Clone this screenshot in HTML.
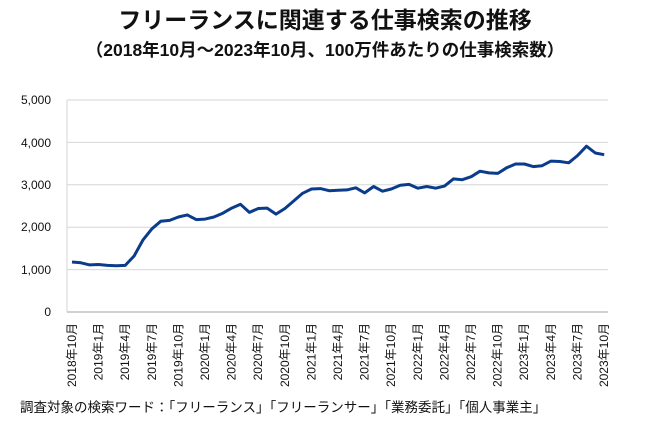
<!DOCTYPE html>
<html><head><meta charset="utf-8"><style>
body{margin:0;background:#fff;}
svg{display:block;font-family:"Liberation Sans","Noto Sans CJK JP",sans-serif;}
</style></head><body>
<svg width="650" height="434" viewBox="0 0 650 434" xmlns="http://www.w3.org/2000/svg">
<text x="325" y="28" text-anchor="middle" font-size="23" font-weight="bold" fill="#111">フリーランスに関連する仕事検索の推移</text>
<text x="325" y="56" text-anchor="middle" font-size="17.5" font-weight="bold" fill="#111">（2018年10月～2023年10月、100万件あたりの仕事検索数）</text>
<g stroke="#d6d6d6" stroke-width="1">
<line x1="67" y1="100" x2="608" y2="100"/>
<line x1="67" y1="142.4" x2="608" y2="142.4"/>
<line x1="67" y1="184.8" x2="608" y2="184.8"/>
<line x1="67" y1="227.2" x2="608" y2="227.2"/>
<line x1="67" y1="269.6" x2="608" y2="269.6"/>
<line x1="67" y1="100" x2="67" y2="312"/>
</g>
<line x1="67" y1="312" x2="608" y2="312" stroke="#d0d0d0" stroke-width="2"/>
<g font-size="12" fill="#111" text-anchor="end">
<text x="51" y="104">5,000</text>
<text x="51" y="147">4,000</text>
<text x="51" y="189">3,000</text>
<text x="51" y="231">2,000</text>
<text x="51" y="274">1,000</text>
<text x="51" y="316">0</text>
</g>
<polyline fill="none" stroke="#0b3c8c" stroke-width="3" stroke-linejoin="round" points="72.0,262.0 80.9,262.8 89.7,264.9 98.6,264.5 107.5,265.4 116.4,265.8 125.2,265.4 134.1,256.0 143.0,239.9 151.8,228.9 160.7,221.3 169.6,220.4 178.4,217.0 187.3,214.9 196.2,219.6 205.1,219.1 213.9,217.0 222.8,213.2 231.7,208.1 240.5,204.3 249.4,212.4 258.3,208.5 267.1,208.1 276.0,214.1 284.9,208.5 293.8,200.9 302.6,193.3 311.5,189.0 320.4,188.6 329.2,190.7 338.1,190.3 347.0,189.9 355.8,187.8 364.7,192.9 373.6,186.5 382.5,191.2 391.3,189.0 400.2,185.2 409.1,184.4 417.9,188.2 426.8,186.5 435.7,188.2 444.5,186.1 453.4,178.9 462.3,179.7 471.2,176.7 480.0,171.2 488.9,172.9 497.8,173.4 506.6,167.8 515.5,164.0 524.4,164.0 533.2,166.6 542.1,165.7 551.0,161.1 559.9,161.5 568.7,162.8 577.6,155.5 586.5,146.2 595.3,153.0 604.2,154.7"/>
<g font-size="12" fill="#111" text-anchor="end">
<text transform="translate(76,323) rotate(-90)">2018年10月</text>
<text transform="translate(102.6,323) rotate(-90)">2019年1月</text>
<text transform="translate(129.2,323) rotate(-90)">2019年4月</text>
<text transform="translate(155.8,323) rotate(-90)">2019年7月</text>
<text transform="translate(182.4,323) rotate(-90)">2019年10月</text>
<text transform="translate(209,323) rotate(-90)">2020年1月</text>
<text transform="translate(235.6,323) rotate(-90)">2020年4月</text>
<text transform="translate(262.2,323) rotate(-90)">2020年7月</text>
<text transform="translate(288.8,323) rotate(-90)">2020年10月</text>
<text transform="translate(315.4,323) rotate(-90)">2021年1月</text>
<text transform="translate(342,323) rotate(-90)">2021年4月</text>
<text transform="translate(368.6,323) rotate(-90)">2021年7月</text>
<text transform="translate(395.2,323) rotate(-90)">2021年10月</text>
<text transform="translate(421.8,323) rotate(-90)">2022年1月</text>
<text transform="translate(448.4,323) rotate(-90)">2022年4月</text>
<text transform="translate(475,323) rotate(-90)">2022年7月</text>
<text transform="translate(501.6,323) rotate(-90)">2022年10月</text>
<text transform="translate(528.2,323) rotate(-90)">2023年1月</text>
<text transform="translate(554.8,323) rotate(-90)">2023年4月</text>
<text transform="translate(581.4,323) rotate(-90)">2023年7月</text>
<text transform="translate(608,323) rotate(-90)">2023年10月</text>
</g>
<text x="20" y="412" font-size="13.5" fill="#111">調査対象の検索ワード：「フリーランス」「フリーランサー」「業務委託」「個人事業主」</text>
</svg>
</body></html>
